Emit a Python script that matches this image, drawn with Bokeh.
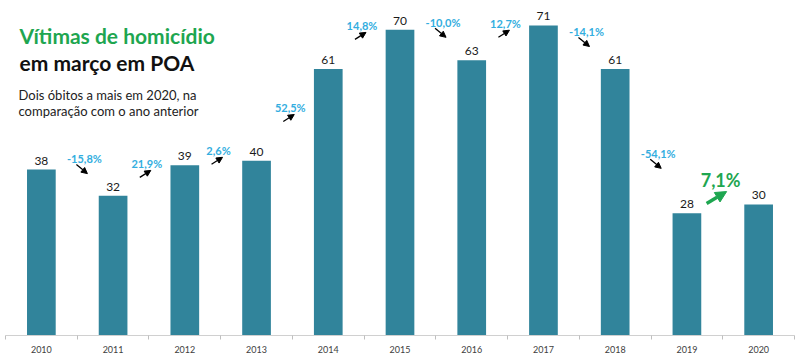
from bokeh.plotting import figure
from bokeh.models import Range1d, FixedTicker, Arrow, NormalHead, ColumnDataSource, Label
from bokeh.core.properties import value
from bokeh.embed import file_html
from bokeh.resources import INLINE

# ---- data ----
years = [2010, 2011, 2012, 2013, 2014, 2015, 2016, 2017, 2018, 2019, 2020]
victims = [38, 32, 39, 40, 61, 70, 63, 71, 61, 28, 30]
changes = ["-15,8%", "21,9%", "2,6%", "52,5%", "14,8%", "-10,0%", "12,7%", "-14,1%", "-54,1%", "7,1%"]
year_labels = [str(y) for y in years]

# ---- layout constants ----
W, H = 800, 355
LEFT, RIGHT, TOP, BOTTOM = 5, 6, 0, 20
X0, X1 = years[0] - 0.5, years[-1] + 0.5
Y1 = 76.7
px_x = (W - LEFT - RIGHT) / (X1 - X0)
px_y = (H - TOP - BOTTOM) / Y1

def dx(p):
    return p / px_x

def dy(p):
    return p / px_y

def to_data(xp, yp):
    return X0 + (xp - LEFT) / px_x, (H - BOTTOM - yp) / px_y

GREEN = "#1ea650"
BLUE = "#33aee0"
BAR = "#31849b"
FONT = "Lato"

p = figure(width=W, height=H, x_range=Range1d(X0, X1), y_range=Range1d(0, Y1),
           output_backend="svg", toolbar_location=None,
           min_border_left=LEFT, min_border_right=RIGHT,
           min_border_top=TOP, min_border_bottom=BOTTOM)
p.outline_line_color = None
p.xgrid.visible = False
p.ygrid.visible = False
p.yaxis.visible = False
p.background_fill_color = "white"
p.border_fill_color = "white"

p.vbar(x=years, top=victims, width=0.4, color=BAR, line_color=None)

ax = p.xaxis[0]
ax.ticker = FixedTicker(ticks=years, minor_ticks=[X0 + i for i in range(len(years) + 1)])
ax.major_label_overrides = {y: s for y, s in zip(years, year_labels)}
ax.major_tick_out = 0
ax.major_tick_in = 0
ax.minor_tick_out = 4
ax.minor_tick_in = 0
ax.minor_tick_line_color = "#bfbfbf"
ax.axis_line_color = "#d0d0d0"
ax.major_label_text_font_size = "9px"
ax.major_label_text_color = "#404040"
ax.major_label_text_font = FONT
ax.major_label_standoff = 6

# value labels
p.text(x=years, y=victims, text=[str(v) for v in victims], y_offset=-5,
       text_align="center", text_baseline="bottom", text_font=value(FONT),
       text_font_size="12px", text_color="#1a1a1a")

# change labels (placement between bars)
change_y = [40.5, 39.4, 42.4, 52.2, 71.0, 71.7, 71.5, 69.6, 41.7, 35.7]
cx, cy = [], []
for i, (c, yy) in enumerate(zip(changes, change_y)):
    mid = (years[i] + years[i + 1]) / 2
    shift = 0.1 if c.startswith("-") else -0.03
    cx.append(mid + shift)
    cy.append(yy)

n = len(changes) - 1
p.text(x=cx[:n], y=cy[:n], text=changes[:n], text_align="center", text_baseline="middle",
       text_font=value(FONT), text_font_style="bold", text_font_size="11px", text_color=BLUE)
p.text(x=cx[n:], y=cy[n:], text=changes[n:], text_align="center", text_baseline="middle",
       text_font=value(FONT), text_font_style="bold", text_font_size="18px", text_color=GREEN)

# arrows
xs, ys, xe, ye = [], [], [], []
for i in range(n):
    if changes[i].startswith("-"):
        s, e = (-8, 6), (3, 15)
    else:
        s, e = (-7, 14), (4, 7)
    xs.append(cx[i] + dx(s[0])); ys.append(cy[i] - dy(s[1]))
    xe.append(cx[i] + dx(e[0])); ye.append(cy[i] - dy(e[1]))
src = ColumnDataSource(dict(xs=xs, ys=ys, xe=xe, ye=ye))
p.add_layout(Arrow(source=src, x_start="xs", y_start="ys", x_end="xe", y_end="ye",
                   line_color="black", line_width=1.3,
                   end=NormalHead(size=6, fill_color="black", line_color="black")))
src2 = ColumnDataSource(dict(xs=[cx[n] + dx(-14)], ys=[cy[n] - dy(24)],
                             xe=[cx[n] + dx(6)], ye=[cy[n] - dy(12)]))
p.add_layout(Arrow(source=src2, x_start="xs", y_start="ys", x_end="xe", y_end="ye",
                   line_color=GREEN, line_width=3.5,
                   end=NormalHead(size=11, fill_color=GREEN, line_color=GREEN)))

# titles
tx, ty = to_data(19, 35)
p.add_layout(Label(x=tx, y=ty, text="Vítimas de homicídio", text_font=FONT,
                   text_font_style="bold", text_font_size="21px", text_color=GREEN,
                   text_baseline="alphabetic"))
tx, ty = to_data(19, 62)
p.add_layout(Label(x=tx, y=ty, text="em março em POA", text_font=FONT,
                   text_font_style="bold", text_font_size="21px", text_color="#111111",
                   text_baseline="alphabetic"))
tx, ty = to_data(18, 94)
p.add_layout(Label(x=tx, y=ty, text="Dois óbitos a mais em 2020, na", text_font=FONT,
                   text_font_size="13px", text_color="#222222", text_baseline="alphabetic"))
tx, ty = to_data(18, 110)
p.add_layout(Label(x=tx, y=ty, text="comparação com o ano anterior", text_font=FONT,
                   text_font_size="13px", text_color="#222222", text_baseline="alphabetic"))

open("out.html", "w").write(file_html(p, INLINE))
